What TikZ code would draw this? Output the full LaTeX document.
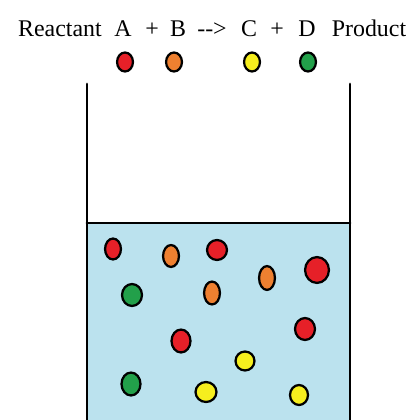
\documentclass[tikz,border=0pt]{standalone}
\usepackage{fontspec}
\setmainfont{Liberation Serif}
\usepackage{xcolor}
\usepackage{tikz}
\usetikzlibrary{shapes.geometric}

\definecolor{liquid}{RGB}{187,226,238}
\definecolor{pred}{RGB}{230,32,40}
\definecolor{porange}{RGB}{238,128,48}
\definecolor{pyellow}{RGB}{246,238,30}
\definecolor{pgreen}{RGB}{34,160,74}

\begin{document}
\begin{tikzpicture}[
    x=0.025cm, y=-0.025cm,
    word/.style={anchor=base, inner sep=0pt, font=\fontsize{17}{20}\selectfont},
    particle/.style 2 args={ellipse, draw=black, line width=1.6pt, inner sep=0pt, minimum width=#1, minimum height=#2},
    wall/.style={line width=2pt, line cap=round}
]
    \useasboundingbox (0,0) rectangle (409,420);

    % Equation
    \node[word] (reactant) at (60,37) {Reactant};
    \node[word] (a) at (123,37) {A};
    \node[word] (plus1) at (152,37) {+};
    \node[word] (b) at (178,37) {B};
    \node[word] (yields) at (212,37) {-\kern0pt->};
    \node[word] (c) at (249,37) {C};
    \node[word] (plus2) at (277,37) {+};
    \node[word] (d) at (307,37) {D};
    \node[word] (product) at (369,37) {Product};

    % Legend
    \node[particle={11.3pt}{13.5pt}, fill=pred] (key_a) at (125,62) {};
    \node[particle={11.3pt}{13.5pt}, fill=porange] (key_b) at (174,62) {};
    \node[particle={11.3pt}{13.5pt}, fill=pyellow] (key_c) at (252,62) {};
    \node[particle={11.3pt}{13.5pt}, fill=pgreen] (key_d) at (308,62) {};

    % Beaker
    \fill[liquid] (87,223) rectangle (350,420);
    \coordinate (left_top) at (87,84);
    \coordinate (left_bot) at (87,420);
    \coordinate (right_top) at (350,84);
    \coordinate (right_bot) at (350,420);
    \coordinate (level_l) at (87,223);
    \coordinate (level_r) at (350,223);
    \draw[wall] (left_top) -- (left_bot);
    \draw[wall] (right_top) -- (right_bot);
    \draw[wall] (level_l) -- (level_r);

    % Particles in solution
    \node[particle={11.3pt}{14.9pt}, fill=pred] (r1) at (113,249) {};
    \node[particle={11.3pt}{15.6pt}, fill=porange] (o1) at (171,256) {};
    \node[particle={14.2pt}{14.2pt}, fill=pred] (r2) at (217,250) {};
    \node[particle={11.3pt}{17pt}, fill=porange] (o2) at (267,278) {};
    \node[particle={17pt}{18.4pt}, fill=pred] (r3) at (317,270) {};
    \node[particle={14.2pt}{15.6pt}, fill=pgreen] (g1) at (132,295) {};
    \node[particle={11.3pt}{16.3pt}, fill=porange] (o3) at (212,293) {};
    \node[particle={14.2pt}{15.6pt}, fill=pred] (r4) at (305,329) {};
    \node[particle={13.5pt}{16.3pt}, fill=pred] (r5) at (181,341) {};
    \node[particle={13.5pt}{13.5pt}, fill=pyellow] (y1) at (245,361) {};
    \node[particle={13.5pt}{16.3pt}, fill=pgreen] (g2) at (131,384) {};
    \node[particle={14.9pt}{14.2pt}, fill=pyellow] (y2) at (206,392) {};
    \node[particle={12.8pt}{14.2pt}, fill=pyellow] (y3) at (299,395) {};
\end{tikzpicture}
\end{document}
